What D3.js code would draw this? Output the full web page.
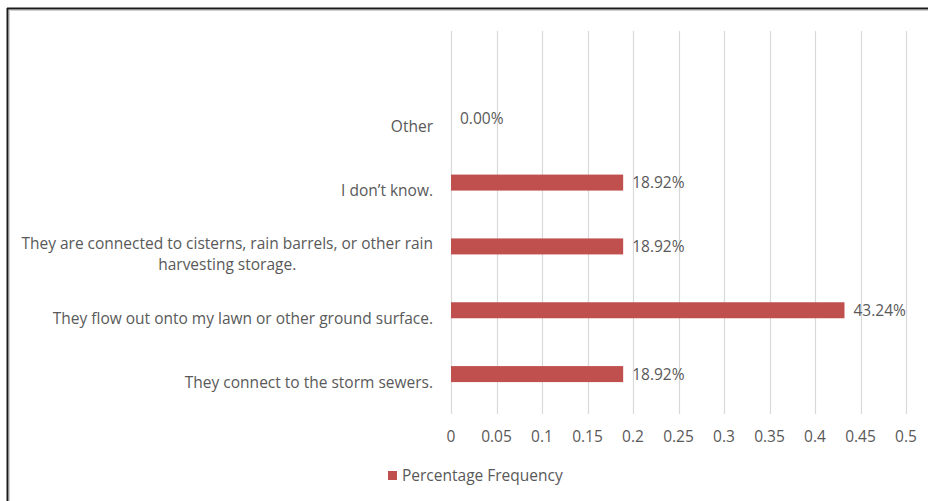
<!DOCTYPE html>
<html>
<head>
<meta charset="utf-8">
<script src="https://cdn.jsdelivr.net/npm/d3@7/dist/d3.min.js"></script>
<style>
  html, body { margin: 0; padding: 0; background: #fff; }
  svg { display: block; }
  text { font-family: "Open Sans", sans-serif; fill: #595959; }
</style>
</head>
<body>
<svg id="chart" width="928" height="501"></svg>
<script>
// Response categories, top to bottom (a blank row sits above "Other")
const categories = [
  "",
  "Other",
  "I don\u2019t know.",
  "They are connected to cisterns, rain barrels, or other rain|harvesting storage.",
  "They flow out onto my lawn or other ground surface.",
  "They connect to the storm sewers."
];
// Share of respondents for each category
const values = [null, 0.0, 0.1892, 0.1892, 0.4324, 0.1892];
const valueLabels = ["", "0.00%", "18.92%", "18.92%", "43.24%", "18.92%"];
const xTicks = [0, 0.05, 0.1, 0.15, 0.2, 0.25, 0.3, 0.35, 0.4, 0.45, 0.5];
const xTickLabels = ["0", "0.05", "0.1", "0.15", "0.2", "0.25", "0.3", "0.35", "0.4", "0.45", "0.5"];
const seriesName = "Percentage Frequency";

const W = 928, H = 501;
const plot = { left: 451, right: 906, top: 31, bottom: 414 };
const barColor = "#C0504D";
const fs = 15.5;

const svg = d3.select("#chart");

// outer frame: dark edge with a light inner edge
svg.append("line").attr("x1", 7).attr("x2", W).attr("y1", 8.5).attr("y2", 8.5)
  .attr("stroke", "#1a1a1a").attr("stroke-width", 2);
svg.append("line").attr("x1", 7.5).attr("x2", 7.5).attr("y1", 8).attr("y2", H)
  .attr("stroke", "#1a1a1a").attr("stroke-width", 2);
svg.append("line").attr("x1", 10).attr("x2", W).attr("y1", 10.5).attr("y2", 10.5)
  .attr("stroke", "#d0d0d0").attr("stroke-width", 1);
svg.append("line").attr("x1", 9.5).attr("x2", 9.5).attr("y1", 10).attr("y2", H)
  .attr("stroke", "#d0d0d0").attr("stroke-width", 1);

const x = d3.scaleLinear().domain([0, 0.5]).range([plot.left, plot.right]);
const y = d3.scaleBand().domain(categories).range([plot.top, plot.bottom]).padding(0);

// vertical gridlines
svg.append("g").selectAll("line").data(xTicks).join("line")
  .attr("x1", d => Math.round(x(d)) + 0.5).attr("x2", d => Math.round(x(d)) + 0.5)
  .attr("y1", plot.top).attr("y2", plot.bottom)
  .attr("stroke", "#d9d9d9").attr("stroke-width", 1.2);

// x tick labels
svg.append("g").selectAll("text").data(xTicks).join("text")
  .attr("x", d => x(d)).attr("y", 437)
  .attr("dy", "0.35em")
  .attr("text-anchor", "middle").attr("font-size", fs)
  .text((d, i) => xTickLabels[i]);

// bars sit in the upper half of each category slot
const barH = 16;
const barOffset = -8;
const rows = categories.map((c, i) => ({ c, v: values[i], lab: valueLabels[i] }));

svg.append("g").selectAll("rect").data(rows.filter(r => r.v !== null)).join("rect")
  .attr("x", x(0))
  .attr("y", r => y(r.c) + y.bandwidth() / 2 + barOffset - barH / 2)
  .attr("width", r => x(r.v) - x(0))
  .attr("height", barH)
  .attr("fill", barColor);

// value labels
svg.append("g").selectAll("text").data(rows.filter(r => r.v !== null)).join("text")
  .attr("x", r => x(r.v) + 9)
  .attr("y", r => y(r.c) + y.bandwidth() / 2 + barOffset)
  .attr("dy", "0.35em")
  .attr("font-size", fs)
  .text(r => r.lab);

// category labels: right-aligned block, wrapped lines centred on each other
const catG = svg.append("g");
rows.filter(r => r.c !== "").forEach(r => {
  const lines = r.c.split("|");
  const cy = y(r.c) + y.bandwidth() / 2;
  const lh = 21;
  const t = catG.append("text").attr("font-size", fs);
  lines.forEach((ln, i) => {
    t.append("tspan").attr("y", cy + (i - (lines.length - 1) / 2) * lh).attr("dy", "0.35em").text(ln);
  });
  const tsp = t.selectAll("tspan").nodes();
  const maxW = d3.max(tsp.map(n => n.getComputedTextLength()));
  const centre = 433 - maxW / 2;
  tsp.forEach(n => d3.select(n).attr("x", centre).attr("text-anchor", "middle"));
});

// legend
const legend = svg.append("g");
legend.append("rect").attr("x", 388).attr("y", 471).attr("width", 9).attr("height", 9).attr("fill", barColor);
legend.append("text").attr("x", 402).attr("y", 476).attr("dy", "0.35em").attr("font-size", fs).text(seriesName);
</script>
</body>
</html>
